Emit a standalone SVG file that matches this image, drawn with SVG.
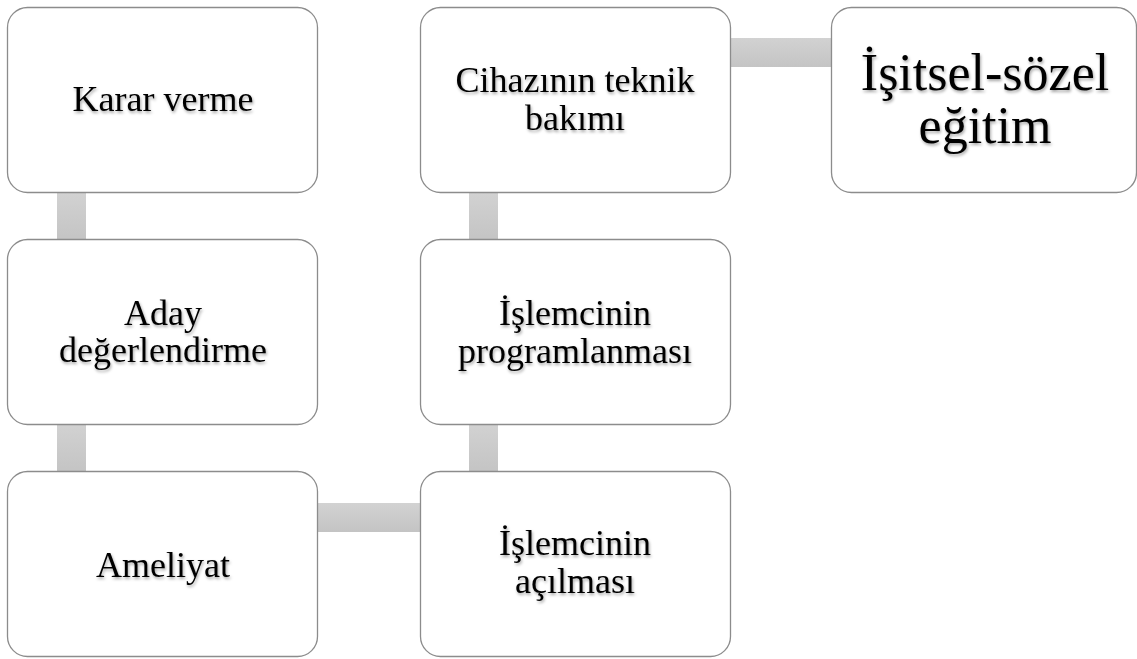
<svg xmlns="http://www.w3.org/2000/svg" width="1137" height="659" viewBox="0 0 1137 659">
<style>
.box{fill:#ffffff;stroke:#8c8c8c;stroke-width:1.3}
.conn{fill:url(#cg)}
.t{font-family:"Liberation Serif","Times New Roman",serif;font-size:36px;fill:#000;text-anchor:middle;filter:url(#sh)}
.tb{font-size:52px}
</style>
<defs>
<linearGradient id="cg" x1="0" y1="0" x2="0" y2="1">
<stop offset="0" stop-color="#d2d2d2"/>
<stop offset="1" stop-color="#c4c4c4"/>
</linearGradient>
<filter id="sh" x="-10%" y="-30%" width="120%" height="160%">
<feDropShadow dx="1" dy="2" stdDeviation="1.4" flood-color="#000" flood-opacity="0.35"/>
</filter>
</defs>
<rect width="1137" height="659" fill="#ffffff"/>
<g id="connectors">
<rect class="conn" x="57" y="192" width="29" height="48"/>
<rect class="conn" x="57" y="423" width="29" height="49"/>
<rect class="conn" x="317" y="503" width="104" height="29"/>
<rect class="conn" x="469" y="423" width="29" height="49"/>
<rect class="conn" x="469" y="192" width="29" height="48"/>
<rect class="conn" x="729" y="38" width="103" height="29"/>
</g>
<g id="n1">
<rect class="box" x="7.5" y="7.5" width="310" height="185" rx="20"/>
<text class="t" x="163" y="111">Karar verme</text>
</g>
<g id="n2">
<rect class="box" x="7.5" y="239.5" width="310" height="185" rx="20"/>
<text class="t" x="163" y="325">Aday</text>
<text class="t" x="163" y="362">değerlendirme</text>
</g>
<g id="n3">
<rect class="box" x="7.5" y="471.5" width="310" height="185" rx="20"/>
<text class="t" x="163" y="577">Ameliyat</text>
</g>
<g id="n4">
<rect class="box" x="420.5" y="471.5" width="310" height="185" rx="20"/>
<text class="t" x="575" y="555">İşlemcinin</text>
<text class="t" x="575" y="593">açılması</text>
</g>
<g id="n5">
<rect class="box" x="420.5" y="239.5" width="310" height="185" rx="20"/>
<text class="t" x="575" y="325">İşlemcinin</text>
<text class="t" x="575" y="363">programlanması</text>
</g>
<g id="n6">
<rect class="box" x="420.5" y="7.5" width="310" height="185" rx="20"/>
<text class="t" x="575" y="92">Cihazının teknik</text>
<text class="t" x="575" y="130">bakımı</text>
</g>
<g id="n7">
<rect class="box" x="831.5" y="7.5" width="305" height="185" rx="20"/>
<text class="t tb" x="985" y="90">İşitsel-sözel</text>
<text class="t tb" x="985" y="143">eğitim</text>
</g>
</svg>
